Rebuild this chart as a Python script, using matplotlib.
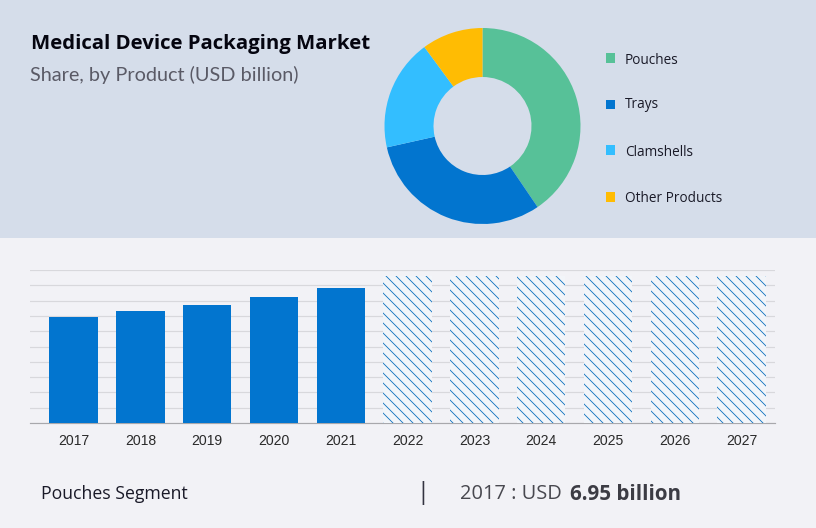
import matplotlib
matplotlib.use("Agg")
import matplotlib.pyplot as plt
from matplotlib.patches import Rectangle

W, H = 816, 528

products = ["Pouches", "Trays", "Clamshells", "Other Products"]
shares = [40.5, 31, 18.4, 10.1]
pie_colors = ["#57C198", "#0275CF", "#33BEFF", "#FFBC03"]

years = ["2017", "2018", "2019", "2020", "2021", "2022", "2023", "2024", "2025", "2026", "2027"]
actual = [6.95, 7.3, 7.7, 8.25, 8.8]
forecast = [9.6, 9.6, 9.6, 9.6, 9.6, 9.6]

legend_y = [60, 105, 152, 198]
marker_y = [58, 104, 150, 197]


def fx(px):
    return px / W


def fy(py):
    return 1 - py / H


def box(left, top, right, bottom):
    return [fx(left), fy(bottom), (right - left) / W, (bottom - top) / H]


plt.rcParams["hatch.linewidth"] = 0.5

# 120 dpi makes the hatch tile come out at 10 px line spacing
fig = plt.figure(figsize=(W / 120, H / 120), dpi=120, facecolor="#F2F2F6")
fig.patches.append(Rectangle((0, fy(238)), 1, 238 / H, transform=fig.transFigure,
                             facecolor="#D5DDEA", edgecolor="none", zorder=-1))

fig.text(fx(31), fy(44), "Medical Device Packaging Market", fontsize=12.2, family="Open Sans",
         fontweight="bold", color="#050510", va="center")
fig.text(fx(30), fy(74.5), "Share, by Product (USD billion)", fontsize=11.9, family="Lato",
         color="#5A5A66", va="center")

# donut
ax_pie = fig.add_axes(box(382.5, 26, 582.5, 226))
ax_pie.pie(shares, colors=pie_colors, startangle=90, counterclock=False, radius=0.98,
           wedgeprops={"width": 0.49, "linewidth": 0})
ax_pie.set_xlim(-1, 1)
ax_pie.set_ylim(-1, 1)

# legend
for name, color, y, my in zip(products, pie_colors, legend_y, marker_y):
    fig.patches.append(Rectangle((fx(606), fy(my + 4.5)), 9 / W, 9 / H, transform=fig.transFigure,
                                 facecolor=color, edgecolor="none"))
    fig.text(fx(625), fy(y), name, fontsize=8.2, family="Open Sans", color="#1A1A28", va="center")

# bars
ax = fig.add_axes(box(30, 270, 775, 423))
ax.set_facecolor("none")
x = list(range(len(years)))
ax.bar(x[:len(actual)], actual, width=0.725, color="#0275CF", linewidth=0, zorder=3)
ax.bar(x[len(actual):], forecast, width=0.725, facecolor="#F2F5F9", edgecolor="#0B6FBE",
       hatch="\\\\\\\\", linewidth=0, zorder=3)
ax.set_xlim(-0.652, 10.50)
ax.set_ylim(0, 10)
ax.set_yticks(range(0, 11))
ax.set_yticklabels([])
ax.set_xticks(x)
ax.set_xticklabels(years, fontsize=8.4, family="Liberation Sans", color="#2A2A2A")
ax.tick_params(axis="x", length=0, pad=6.5)
ax.tick_params(axis="y", length=0)
ax.grid(axis="y", color="#D8D8DC", linewidth=0.7, zorder=0)
for side in ["top", "left", "right"]:
    ax.spines[side].set_visible(False)
ax.spines["bottom"].set_color("#A8A8AC")
ax.spines["bottom"].set_linewidth(0.7)

# footer
fig.text(fx(41), fy(494), "Pouches Segment", fontsize=10.6, family="Open Sans", color="#1A1A28", va="center")
fig.text(fx(422.5), fy(493), "|", fontsize=14, family="Open Sans", color="#333340", va="center", ha="center")
fig.text(fx(460), fy(494), "2017 : USD", fontsize=12, family="Open Sans", color="#48484F", va="center")
fig.text(fx(570), fy(494), "6.95 billion", fontsize=12.3, family="Open Sans", fontweight="bold",
         color="#3C3C44", va="center")

fig.savefig("out.png", dpi=120, facecolor=fig.get_facecolor())
